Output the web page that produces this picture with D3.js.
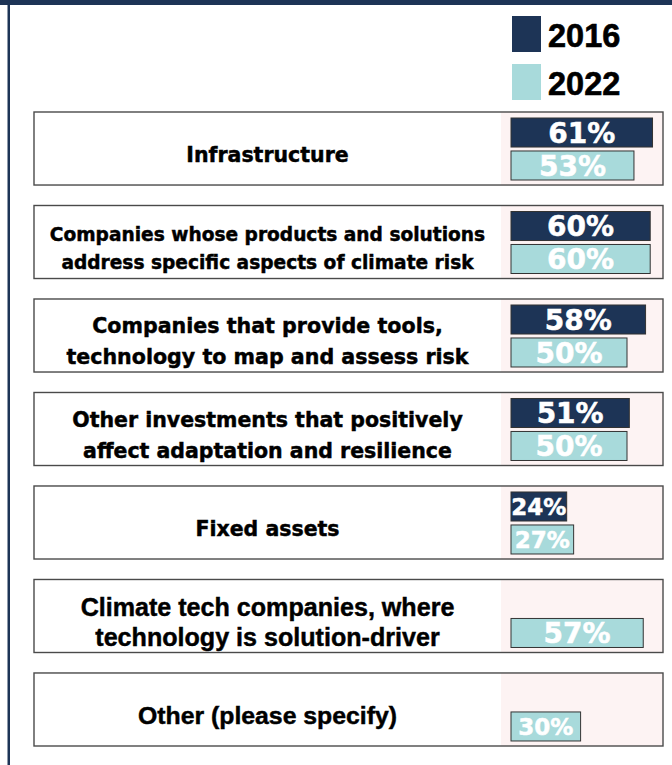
<!DOCTYPE html>
<html>
<head>
<meta charset="utf-8">
<script src="https://cdn.jsdelivr.net/npm/d3@7"></script>
<style>
  html, body { margin: 0; padding: 0; background: #ffffff; }
  svg { display: block; }
</style>
</head>
<body>
<div id="chart"></div>
<script>
// ---------------- data ----------------
const categories = [
  "Infrastructure",
  "Companies whose products and solutions\naddress specific aspects of climate risk",
  "Companies that provide tools,\ntechnology to map and assess risk",
  "Other investments that positively\naffect adaptation and resilience",
  "Fixed assets",
  "Climate tech companies, where\ntechnology is solution-driver",
  "Other (please specify)"
];
const seriesNames = ["2016", "2022"];
const values2016 = [61, 60, 58, 51, 24, null, null];
const values2022 = [53, 60, 50, 50, 27, 57, 30];

// ---------------- styles ----------------
const W = 672, H = 765;
const navy = "#1d3456";
const teal = "#a8dadb";
const colors = { "2016": navy, "2022": teal };
const labelFont = "'DejaVu Sans', sans-serif";
const condFont = "'Liberation Sans', Arial, sans-serif";
// per-row label styling (font family, size, line gap)
const labelStyle = [
  { f: labelFont, s: 20.5, g: 30 },
  { f: labelFont, s: 18.6, g: 28 },
  { f: labelFont, s: 20.6, g: 31 },
  { f: labelFont, s: 20.5, g: 31 },
  { f: labelFont, s: 20.5, g: 30 },
  { f: condFont,  s: 25.1, g: 30 },
  { f: condFont,  s: 24.8, g: 30 }
];

const svg = d3.select("#chart").append("svg")
  .attr("width", W).attr("height", H);

// frame
svg.append("rect").attr("x", 0).attr("y", 0).attr("width", W).attr("height", 5).attr("fill", navy);
svg.append("rect").attr("x", 7.5).attr("y", 0).attr("width", 2.5).attr("height", H).attr("fill", navy);

// scales
const y = d3.scaleBand().domain(categories).range([112, 746]).paddingInner(0.219).paddingOuter(0);
const ySub = d3.scaleBand().domain(seriesNames).range([6, 68]).paddingInner(0.12);
const x = d3.scaleLinear().domain([0, 100]).range([511, 743]);

const boxLeft = 34, boxRight = 663, shadeLeft = 501;

const rows = categories.map((c, i) => ({
  cat: c, i,
  vals: [
    { s: "2016", v: values2016[i] },
    { s: "2022", v: values2022[i] }
  ].filter(d => d.v != null)
}));

const g = svg.selectAll("g.row").data(rows).enter().append("g")
  .attr("class", "row")
  .attr("transform", d => `translate(0,${y(d.cat)})`);

// pink shaded area
g.append("rect")
  .attr("x", shadeLeft).attr("y", 0)
  .attr("width", boxRight - shadeLeft).attr("height", y.bandwidth())
  .attr("fill", "#fdf3f3");

// box outline
g.append("rect")
  .attr("x", boxLeft).attr("y", 0)
  .attr("width", boxRight - boxLeft).attr("height", y.bandwidth())
  .attr("fill", "none").attr("stroke", "#4a4a4a").attr("stroke-width", 1.4);

// category labels
g.each(function(d) {
  const st = labelStyle[d.i];
  const lines = d.cat.split("\n");
  const cx = (boxLeft + shadeLeft) / 2;
  const capH = 0.72 * st.s;
  const center = y.bandwidth() / 2 + 6;
  const firstBase = center - (lines.length - 1) * st.g / 2 + capH / 2;
  const t = d3.select(this).append("text")
    .attr("text-anchor", "middle")
    .attr("font-family", st.f)
    .attr("font-weight", "bold")
    .attr("font-size", st.s)
    .attr("fill", "#000")
    .attr("stroke", "#000").attr("stroke-width", 0.45);
  lines.forEach((ln, k) => {
    t.append("tspan").attr("x", cx).attr("y", firstBase + k * st.g).text(ln);
  });
});

// bars
const bars = g.selectAll("g.bar").data(d => d.vals).enter().append("g").attr("class", "bar");
bars.append("rect")
  .attr("x", x(0))
  .attr("y", d => ySub(d.s))
  .attr("width", d => x(d.v) - x(0))
  .attr("height", ySub.bandwidth())
  .attr("fill", d => colors[d.s])
  .attr("stroke", "#333").attr("stroke-width", 1);
const pctSize = d => (x(d.v) - x(0)) < 80 ? 23 : 28;
bars.append("text")
  .attr("x", d => (x(0) + x(d.v)) / 2)
  .attr("y", d => ySub(d.s) + ySub.bandwidth() / 2 + 0.3645 * pctSize(d))
  .attr("text-anchor", "middle")
  .attr("font-family", labelFont)
  .attr("font-weight", "bold")
  .attr("font-size", pctSize)
  .attr("fill", "#ffffff")
  .attr("stroke", "#ffffff").attr("stroke-width", 0.5)
  .text(d => d.v + "%");

// legend
const leg = svg.selectAll("g.leg").data(seriesNames).enter().append("g")
  .attr("class", "leg")
  .attr("transform", (d, i) => `translate(512,${16 + i * 48})`);
leg.append("rect").attr("width", 29).attr("height", 36).attr("fill", d => colors[d]);
leg.append("text")
  .attr("x", 36).attr("y", 31)
  .attr("font-family", condFont).attr("font-weight", "bold").attr("font-size", 32.5)
  .attr("fill", "#000").attr("stroke", "#000").attr("stroke-width", 0.6)
  .text(d => d);
</script>
</body>
</html>
